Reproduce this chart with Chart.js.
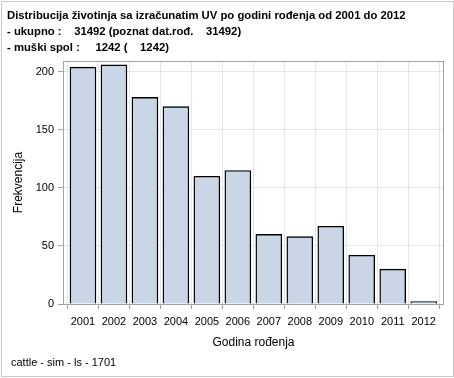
<!DOCTYPE html>
<html>
<head>
<meta charset="utf-8">
<script src="https://cdn.jsdelivr.net/npm/chart.js@4/dist/chart.umd.min.js"></script>
<style>
html,body{margin:0;padding:0;background:#fff;}
#wrap{width:454px;height:378px;position:relative;}
</style>
</head>
<body>
<div id="wrap"><canvas id="c" width="454" height="378"></canvas></div>
<script>
const years = ['2001','2002','2003','2004','2005','2006','2007','2008','2009','2010','2011','2012'];
const counts = [204, 206, 178, 170, 110, 115, 60, 58, 67, 42, 30, 2];
const yTicks = [0, 50, 100, 150, 200];
const titleLines = [
  'Distribucija životinja sa izračunatim UV po godini rođenja od 2001 do 2012',
  '- ukupno :    31492 (poznat dat.rođ.    31492)',
  '- muški spol :     1242 (    1242)'
];
const footnote = 'cattle - sim - ls - 1701';
const xTitle = 'Godina rođenja';
const yTitle = 'Frekvencija';

const FONT = '"Liberation Sans", Arial, sans-serif';

const framePlugin = {
  id: 'frame',
  beforeDraw(chart) {
    const ctx = chart.ctx;
    ctx.save();
    ctx.fillStyle = '#fff';
    ctx.fillRect(0, 0, chart.width, chart.height);
    ctx.strokeStyle = '#c8c8c8';
    ctx.lineWidth = 1;
    ctx.strokeRect(1.5, 1.5, 452, 375);
    ctx.fillStyle = '#000';
    ctx.font = 'bold 11.3px ' + FONT;
    ctx.textBaseline = 'alphabetic';
    ctx.textAlign = 'left';
    const ys = [19, 35, 51];
    titleLines.forEach((t, i) => ctx.fillText(t, 7, ys[i]));
    ctx.font = '11px ' + FONT;
    ctx.fillText(footnote, 11, 366);
    ctx.restore();
  },
  afterDatasetsDraw(chart) {
    const {ctx, chartArea: a} = chart;
    ctx.save();
    ctx.strokeStyle = '#a0a4a8';
    ctx.lineWidth = 1;
    ctx.strokeRect(Math.round(a.left) + 0.5, Math.round(a.top) + 0.5,
      Math.round(a.right - a.left) - 1, Math.round(a.bottom - a.top));
    ctx.restore();
  }
};

new Chart(document.getElementById('c'), {
  type: 'bar',
  data: {
    datasets: [{
      data: counts.map((v, i) => ({x: i + 1, y: v})),
      backgroundColor: '#cad5e5',
      borderColor: '#000',
      borderWidth: 1.4,
      barThickness: 26,
      borderSkipped: 'start'
    }]
  },
  options: {
    responsive: false,
    animation: false,
    layout: {padding: {top: 61, left: 0, right: 10, bottom: 24}},
    plugins: {legend: {display: false}, tooltip: {enabled: false}},
    scales: {
      x: {
        type: 'linear',
        min: 0.355,
        max: 12.655,
        offset: false,
        afterFit(s) { s.height = 378 - 24 - 304; },
        afterBuildTicks(s) { s.ticks = years.map((y, i) => ({value: i + 1})); },
        ticks: {
          callback: (v) => years[v - 1],
          color: '#000',
          font: {family: FONT, size: 11},
          padding: 6,
          maxRotation: 0,
          autoSkip: false
        },
        grid: {color: '#e6e6e6', tickColor: '#a0a4a8', tickLength: 5, drawOnChartArea: true},
        border: {display: false},
        title: {display: true, text: xTitle, color: '#000', font: {family: FONT, size: 12}, padding: {top: 0, bottom: 4}}
      },
      y: {
        min: 0,
        max: 209.3,
        afterFit(s) { s.width = 63; },
        afterBuildTicks(s) { s.ticks = yTicks.map(v => ({value: v})); },
        ticks: {color: '#000', font: {family: FONT, size: 11}, padding: 4},
        grid: {color: '#e6e6e6', tickColor: '#a0a4a8', tickLength: 5},
        border: {display: false},
        title: {display: true, text: yTitle, color: '#000', font: {family: FONT, size: 12}, padding: {top: 11, bottom: 0}}
      }
    }
  },
  plugins: [framePlugin]
});
</script>
</body>
</html>
